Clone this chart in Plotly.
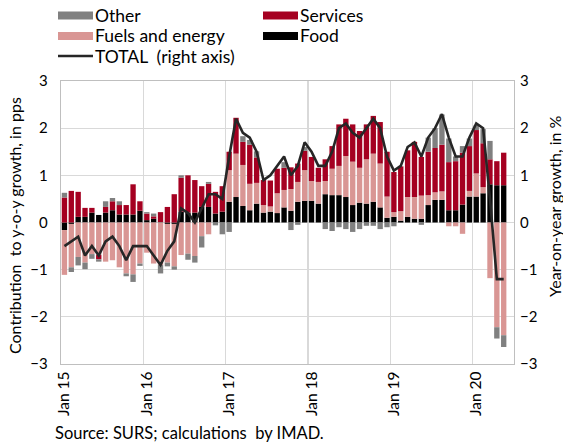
import plotly.graph_objects as go

# ---- data (contributions in pps, total y-o-y in %) Jan 2015 .. May 2020 ----
years = ["15", "16", "17", "18", "19", "20"]

food = [-0.16, -0.03, 0.12, 0.12, 0.21, 0.16, 0.21, 0.26, 0.17, 0.17, 0.17, 0.25,
        0.05, 0.08, 0.01, -0.03, -0.03, 0.23, 0.21, 0.21, 0.33, 0.33, 0.19, 0.23,
        0.44, 0.54, 0.35, 0.26, 0.40, 0.21, 0.23, 0.20, 0.32, 0.25, 0.44, 0.46,
        0.46, 0.40, 0.60, 0.58, 0.58, 0.54, 0.37, 0.42, 0.40, 0.44, 0.32, 0.10,
        0.12, 0.04, 0.12, 0.08, 0.08, 0.37, 0.48, 0.48, 0.26, 0.26, 0.38, 0.55,
        0.55, 0.62, 0.81, 0.79, 0.79]

fuels = [-0.95, -0.92, -0.73, -0.85, -0.67, -0.69, -0.83, -0.80, -0.95, -1.08, -1.10, -0.87,
         -0.64, -0.87, -0.90, -0.82, -0.90, -0.69, -0.66, -0.71, -0.29, -0.25, 0.0, 0.0,
         0.67, 0.92, 0.87, 0.56, 0.44, 0.16, 0.11, 0.42, 0.37, 0.46, 0.42, 0.65,
         0.42, 0.46, 0.28, 0.56, 0.62, 0.87, 0.92, 0.74, 0.94, 1.02, 0.93, 0.45,
         0.10, 0.20, 0.42, 0.46, 0.49, 0.21, 0.16, 0.18, -0.08, -0.08, -0.24, 0.12,
         0.49, 0.13, -1.18, -2.22, -2.39]

services = [0.53, 0.67, 0.53, 0.19, 0.10, -0.09, 0.12, 0.19, 0.20, 0.20, 0.64, 0.20,
            0.14, 0.05, 0.21, 0.33, 0.60, 0.72, 0.79, 0.69, 0.44, 0.49, 0.46, 0.54,
            0.39, 0.76, 0.49, 0.83, 0.54, 0.53, 0.55, 0.52, 0.47, 0.46, 0.39, 0.41,
            0.51, 0.30, 0.46, 0.48, 0.88, 0.79, 0.79, 0.78, 0.74, 0.80, 0.88, 0.95,
            0.85, 0.95, 0.99, 1.17, 0.82, 0.92, 0.94, 0.99, 1.02, 1.04, 1.10, 0.95,
            0.92, 0.93, 0.53, 0.51, 0.69]

other = [0.10, -0.10, -0.18, -0.14, -0.10, -0.05, 0.12, 0.07, 0.08, -0.06, -0.16, -0.05,
         0.03, 0.06, -0.18, -0.08, -0.07, 0.05, -0.13, -0.14, -0.24, 0.04, -0.06, -0.25,
         -0.20, 0.0, 0.12, 0.10, 0.13, 0.0, 0.0, 0.0, 0.12, -0.16, -0.05, 0.08,
         0.0, 0.0, -0.14, -0.18, -0.10, -0.14, -0.20, -0.14, -0.07, -0.07, -0.14, -0.10,
         -0.08, 0.0, 0.0, 0.0, -0.05, 0.30, 0.42, 0.64, 0.50, 0.10, 0.14, 0.16,
         0.10, 0.30, 0.39, -0.24, -0.25]

total = [-0.5, -0.4, -0.3, -0.7, -0.5, -0.7, -0.4, -0.3, -0.5, -0.8, -0.5, -0.5,
         -0.5, -0.7, -0.9, -0.6, -0.4, 0.3, 0.2, 0.0, 0.3, 0.6, 0.6, 0.5,
         1.4, 2.2, 1.9, 1.8, 1.5, 0.9, 1.0, 1.2, 1.4, 1.0, 1.2, 1.7,
         1.5, 1.2, 1.2, 1.5, 2.0, 2.1, 1.9, 1.8, 2.0, 2.2, 2.0, 1.4,
         1.1, 1.2, 1.6, 1.7, 1.4, 1.8, 2.0, 2.3, 1.8, 1.4, 1.4, 1.8,
         2.1, 2.0, 0.5, -1.2, -1.2]

x = list(range(len(total)))
jan_idx = list(range(0, len(total), 12))
tick_text = ["Jan " + y for y in years]

C_OTHER = "#808080"
C_SERV = "#a50021"
C_FUEL = "#d99694"
C_FOOD = "#000000"
C_LINE = "#262626"
GRID = "#d9d9d9"
FRAME = "#bfbfbf"
FONT = "Lato"

fig = go.Figure()
for name, vals, col in [("Food", food, C_FOOD), ("Fuels and energy", fuels, C_FUEL),
                        ("Services", services, C_SERV), ("Other", other, C_OTHER)]:
    fig.add_trace(go.Bar(x=x, y=vals, name=name, marker=dict(color=col, line=dict(width=0)),
                         showlegend=False))
fig.add_trace(go.Scatter(x=x, y=total, name="TOTAL (right axis)", mode="lines",
                         line=dict(color=C_LINE, width=2.6), yaxis="y2", showlegend=False))

# plot area lands at page pixels x 61..514, y 81..364
fig.update_layout(
    width=563, height=447,
    margin=dict(l=61, r=49, t=81, b=83, autoexpand=False),
    paper_bgcolor="white", plot_bgcolor="white",
    barmode="relative", bargap=0.22,
    font=dict(family=FONT, size=15, color="#000000"),
    xaxis=dict(range=[-0.5, len(total) + 0.5], tickmode="array", tickvals=jan_idx,
               ticktext=tick_text, tickangle=-90, showgrid=False, zeroline=False,
               showline=True, mirror=True, linecolor=FRAME, linewidth=1.3, ticks="",
               tickfont=dict(size=15.5), automargin=False,
               minor=dict(tickmode="linear", tick0=-0.5, dtick=12, showgrid=True,
                          gridcolor=GRID, gridwidth=1.3, ticks="")),
    yaxis=dict(range=[-3, 3], dtick=1, tickmode="linear", showgrid=True, gridcolor=GRID,
               gridwidth=1.3, zeroline=True, zerolinecolor=GRID, zerolinewidth=1.3,
               showline=True, mirror=True, linecolor=FRAME, linewidth=1.3, ticks="",
               tickfont=dict(size=15), ticklabelstandoff=9, automargin=False),
    yaxis2=dict(range=[-3, 3], dtick=1, tickmode="linear", overlaying="y", side="right",
                showgrid=False, zeroline=False, showline=False, ticks="",
                tickfont=dict(size=15), ticklabelstandoff=5, automargin=False),
)

# ---- helpers: page pixel -> paper coordinates of the plot area ----
def px_x(p):
    return (p - 61) / 453.0

def px_y(p):
    return (364 - p) / 283.0

# axis titles
fig.add_annotation(text="Contribution\u00a0 to y-o-y growth, in pps", xref="paper", yref="paper",
                   x=px_x(14), y=px_y(226), textangle=-90, xanchor="center", yanchor="middle",
                   showarrow=False, font=dict(size=16, family=FONT))
fig.add_annotation(text="Year-on-year growth, in %", xref="paper", yref="paper",
                   x=px_x(554), y=px_y(206), textangle=-90, xanchor="center", yanchor="middle",
                   showarrow=False, font=dict(size=16, family=FONT))

# ---- manual legend ----
legend_items = [
    ("Other", C_OTHER, 58, 15.5, "box"),
    ("Services", C_SERV, 263, 15.5, "box"),
    ("Fuels and energy", C_FUEL, 58, 36, "box"),
    ("Food", C_FOOD, 263, 36, "box"),
    ("TOTAL\u00a0 (right axis)", C_LINE, 58, 56, "line"),
]
for label, col, lx, ly, kind in legend_items:
    if kind == "box":
        fig.add_shape(type="rect", xref="paper", yref="paper",
                      x0=px_x(lx), x1=px_x(lx + 35), y0=px_y(ly + 4), y1=px_y(ly - 4),
                      fillcolor=col, line=dict(width=0))
    else:
        fig.add_shape(type="line", xref="paper", yref="paper",
                      x0=px_x(lx), x1=px_x(lx + 35), y0=px_y(ly), y1=px_y(ly),
                      line=dict(color=col, width=2.6))
    fig.add_annotation(text=label, xref="paper", yref="paper", x=px_x(lx + 35), y=px_y(ly),
                       xanchor="left", yanchor="middle", showarrow=False,
                       font=dict(size=17.5, family=FONT))

fig.add_annotation(text="Source: SURS; calculations\u00a0 by IMAD.", xref="paper", yref="paper",
                   x=px_x(53), y=px_y(433), xanchor="left", yanchor="middle",
                   showarrow=False, font=dict(size=16.5, family=FONT))

fig.write_html(
    "out.html",
    config={"displayModeBar": False, "staticPlot": True},
    post_script="document.body.style.margin='0';document.body.style.padding='0';"
                "document.body.style.overflow='hidden';",
)
